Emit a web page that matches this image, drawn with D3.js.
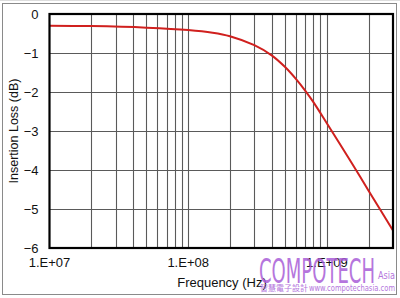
<!DOCTYPE html>
<html><head><meta charset="utf-8">
<script src="https://cdn.jsdelivr.net/npm/d3@7"></script>
<style>html,body{margin:0;padding:0;background:#fff;}svg{display:block;}</style>
</head><body>
<svg id="c" width="400" height="298"></svg>
<script>
const freqs = [1e7, 2e7, 5e7, 1e8, 1.5e8, 2e8, 3e8, 4e8, 5e8, 6e8, 7e8, 8e8, 1e9, 1.5e9, 2e9, 3e9];
const loss  = [-0.30, -0.31, -0.35, -0.41, -0.48, -0.57, -0.80, -1.06, -1.36, -1.67, -1.97, -2.26, -2.80, -3.80, -4.53, -5.55];
const yTicks = [0, -1, -2, -3, -4, -5, -6];
const xLabelTicks = [1e7, 1e8, 1e9];
const xLabels = ["1.E+07", "1.E+08", "1.E+09"];
const xTitle = "Frequency (Hz)";
const yTitle = "Insertion Loss (dB)";

const svg = d3.select("#c");
const L = 49.5, R = 393, T = 14, B = 248;
const x = d3.scaleLog().domain([1e7, 3e9]).range([L, R]);
const y = d3.scaleLinear().domain([0, -6]).range([T, B]);
const font = "'Liberation Sans', Arial, sans-serif";

// outer frame
svg.append("line").attr("x1",0).attr("x2",400).attr("y1",0.5).attr("y2",0.5).attr("stroke","#ddd");
svg.append("rect").attr("x",2.5).attr("y",3.5).attr("width",394).attr("height",291)
  .attr("fill","none").attr("stroke","#8a8a8a").attr("stroke-width",1);

// vertical grid
const vGrid = [];
[1e7,1e8,1e9].forEach(d => { for (let m=1;m<=9;m++){ const v=d*m; if (v>1e7 && v<3e9) vGrid.push(v);} });
svg.append("g").selectAll("line").data(vGrid).join("line")
  .attr("x1",d=>Math.round(x(d))+0.5).attr("x2",d=>Math.round(x(d))+0.5)
  .attr("y1",T).attr("y2",B).attr("stroke","#5a5a5a").attr("stroke-width",1.1);
// horizontal grid
svg.append("g").selectAll("line").data(yTicks.slice(1,-1)).join("line")
  .attr("x1",L).attr("x2",R).attr("y1",d=>Math.round(y(d))+0.5).attr("y2",d=>Math.round(y(d))+0.5)
  .attr("stroke","#5a5a5a").attr("stroke-width",1.1);

// curve
const line = d3.line().x(d=>x(d[0])).y(d=>y(d[1])).curve(d3.curveCatmullRom.alpha(0.5));
svg.append("path").datum(freqs.map((f,i)=>[f,loss[i]]))
  .attr("d",line).attr("fill","none").attr("stroke","#d0201e").attr("stroke-width",2);

// plot border
svg.append("rect").attr("x",L).attr("y",T).attr("width",R-L).attr("height",B-T)
  .attr("fill","none").attr("stroke","#000").attr("stroke-width",2.2);

// y tick labels
svg.append("g").selectAll("text").data(yTicks).join("text")
  .attr("x",38.5).attr("y",d=>y(d)+4.5).attr("text-anchor","end")
  .attr("font-family",font).attr("font-size",13).attr("fill","#111")
  .text(d=> d===0 ? "0" : "\u2212"+Math.abs(d));

// x tick labels
svg.append("g").selectAll("text").data(xLabelTicks).join("text")
  .attr("x",d=>x(d)).attr("y",267).attr("text-anchor","middle")
  .attr("font-family",font).attr("font-size",13).attr("fill","#111")
  .text((d,i)=>xLabels[i]);

// titles
svg.append("text").attr("x",222).attr("y",287).attr("text-anchor","middle")
  .attr("font-family",font).attr("font-size",13).attr("fill","#111").text(xTitle);
svg.append("text").attr("transform","translate(17.5,131) rotate(-90)").attr("text-anchor","middle")
  .attr("font-family",font).attr("font-size",12.5).attr("fill","#111").text(yTitle);

// watermark
const wm = svg.append("g").attr("opacity",0.85).attr("fill","#a95ed8");
wm.append("text").attr("x",259).attr("y",283).attr("font-family","'DejaVu Sans Condensed','DejaVu Sans',sans-serif")
  .attr("font-size",34).attr("textLength",116).attr("lengthAdjust","spacingAndGlyphs").text("COMPOTECH");
wm.append("text").attr("x",378).attr("y",279).attr("font-family","'DejaVu Sans Condensed',sans-serif")
  .attr("font-size",10).attr("textLength",17).attr("lengthAdjust","spacingAndGlyphs").text("Asia");
wm.append("text").attr("x",260).attr("y",291).attr("font-family","'Noto Sans CJK TC',sans-serif")
  .attr("font-size",8).attr("textLength",48).attr("lengthAdjust","spacingAndGlyphs").text("智慧電子設計");
wm.append("text").attr("x",309).attr("y",291).attr("font-family","'DejaVu Sans Condensed',sans-serif")
  .attr("font-size",8).attr("textLength",86).attr("lengthAdjust","spacingAndGlyphs").text("www.compotechasia.com");
</script>
</body></html>
